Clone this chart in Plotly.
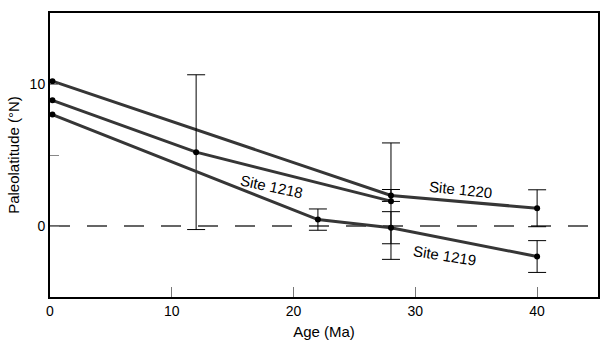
import plotly.graph_objects as go

# Paleolatitude vs. age for three sites
age_1220 = [0.2, 28, 40]
lat_1220 = [10.2, 2.15, 1.25]
err_1220 = [None, 0.42, 1.3]

age_1218 = [0.2, 12, 28]
lat_1218 = [8.85, 5.2, 1.75]
err_1218 = [None, 5.45, 4.1]

age_1219 = [0.2, 22, 28, 40]
lat_1219 = [7.85, 0.45, -0.12, -2.15]
err_1219 = [None, 0.75, 1.13, 1.12]

x_ticks = [0, 10, 20, 30, 40]
y_ticks = [0, 5, 10]
y_tick_labels = ["0", "", "10"]

labels = [
    ("Site 1218", 18.2, 2.8, 12),
    ("Site 1220", 33.7, 2.55, 6),
    ("Site 1219", 32.4, -2.1, 9),
]

LINE = "#363636"
FONT = "Liberation Sans, Arial, Helvetica, sans-serif"

fig = go.Figure()

# zero-latitude reference (equator)
fig.add_trace(go.Scatter(
    x=[0, 45], y=[0, 0], mode="lines",
    line=dict(color="#333333", width=1.4, dash="20px,17px"),
    hoverinfo="skip", showlegend=False,
))

for ages, lats, errs in [(age_1220, lat_1220, err_1220),
                         (age_1218, lat_1218, err_1218),
                         (age_1219, lat_1219, err_1219)]:
    # error bars only where an uncertainty is given
    keep = [i for i, e in enumerate(errs) if e is not None]
    fig.add_trace(go.Scatter(
        x=[ages[i] for i in keep], y=[lats[i] for i in keep], mode="markers",
        marker=dict(color="black", size=1, opacity=0),
        error_y=dict(type="data", array=[errs[i] for i in keep], visible=True,
                     color="black", thickness=1, width=9),
        hoverinfo="skip", showlegend=False,
    ))
    fig.add_trace(go.Scatter(
        x=ages, y=lats, mode="lines+markers",
        line=dict(color=LINE, width=3),
        marker=dict(color="black", size=6),
        cliponaxis=False,
        showlegend=False,
    ))

for text, x, y, ang in labels:
    fig.add_annotation(x=x, y=y, text=text, showarrow=False,
                       textangle=ang, font=dict(size=15, color="black", family=FONT))

fig.update_xaxes(
    range=[0, 45], tickvals=x_ticks, ticks="inside", ticklen=10,
    tickcolor="#777777", tickwidth=1,
    showline=True, linecolor="black", linewidth=2, mirror=True,
    showgrid=False, zeroline=False, automargin=False,
    title=dict(text="Age (Ma)", font=dict(size=15, family=FONT, color="black"), standoff=9),
    tickfont=dict(size=14, family=FONT, color="black"),
)
fig.update_yaxes(
    range=[-5, 15], tickvals=y_ticks, ticktext=y_tick_labels, ticks="inside", ticklen=9,
    tickcolor="#888888", tickwidth=1,
    showline=True, linecolor="black", linewidth=2, mirror=True,
    showgrid=False, zeroline=False, automargin=False,
    title=dict(text="Paleolatitude (°N)", font=dict(size=15, family=FONT, color="black"), standoff=6),
    tickfont=dict(size=14, family=FONT, color="black"),
)

fig.update_layout(
    width=609, height=342,
    margin=dict(l=50, r=11, t=13, b=45),
    plot_bgcolor="white", paper_bgcolor="white",
    font=dict(family=FONT),
)

fig.write_html("out.html")
